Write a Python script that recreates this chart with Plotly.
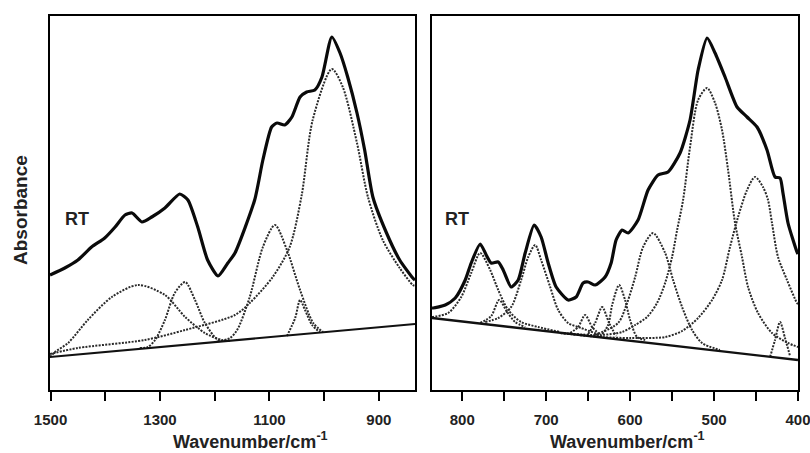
import plotly.graph_objects as go

# ---------------- LEFT PANEL (1500-834 cm-1) ----------------
main_L_x = [1501, 1474, 1450, 1425, 1401, 1382, 1364, 1351, 1333, 1315, 1291, 1264, 1249, 1231, 1213, 1194,
            1176, 1163, 1127, 1112, 1096, 1086, 1072, 1059, 1044, 1032, 1017, 1004, 986, 971, 957, 940, 926,
            911, 886, 862, 838, 834]
main_L_y = [1.15, 1.22, 1.30, 1.43, 1.52, 1.63, 1.75, 1.77, 1.68, 1.73, 1.82, 1.96, 1.90, 1.63, 1.30, 1.14,
            1.27, 1.37, 1.90, 2.30, 2.63, 2.67, 2.65, 2.73, 2.93, 2.98, 3.00, 3.13, 3.53, 3.37, 3.13, 2.77, 2.40,
            1.93, 1.57, 1.30, 1.12, 1.10]
base_L_x = [1501, 834]
base_L_y = [0.33, 0.66]

band_L1_x = [1501, 1492, 1468, 1432, 1388, 1340, 1291, 1254, 1218, 1187, 1172]
band_L1_y = [0.33, 0.38, 0.47, 0.70, 0.93, 1.05, 0.95, 0.73, 0.57, 0.50, 0.49]
band_L2_x = [1337, 1322, 1309, 1291, 1273, 1254, 1236, 1218, 1194, 1176]
band_L2_y = [0.42, 0.43, 0.50, 0.70, 0.97, 1.08, 0.90, 0.67, 0.50, 0.49]
band_L3_x = [1200, 1172, 1159, 1136, 1112, 1090, 1068, 1044, 1020, 1002]
band_L3_y = [0.48, 0.52, 0.60, 0.93, 1.43, 1.65, 1.40, 1.00, 0.67, 0.58]
band_L4_x = [1501, 1450, 1328, 1254, 1163, 1136, 1094, 1063, 1041, 1021, 986, 966, 940, 920, 893, 862, 838, 834]
band_L4_y = [0.36, 0.42, 0.50, 0.60, 0.75, 0.87, 1.13, 1.43, 1.95, 2.70, 3.21, 3.03, 2.47, 1.93, 1.50, 1.22, 1.05, 1.04]
band_L5_x = [1068, 1053, 1044, 1035, 1022, 1008]
band_L5_y = [0.54, 0.72, 0.90, 0.80, 0.65, 0.58]

# ---------------- RIGHT PANEL (836-400 cm-1) ----------------
main_R_x = [836, 834.5, 820.2, 808.3, 796.4, 789.3, 778.6, 771.4, 765.5, 757.1, 751.2, 741.7, 733.3, 725.0,
            714.3, 706.0, 697.6, 688.1, 673.8, 664.3, 656.0, 650.0, 641.7, 629.8, 622.6, 616.7, 609.5, 602.4,
            590.5, 578.6, 566.7, 554.8, 540.5, 528.6, 519.0, 508.3, 498.8, 486.9, 472.6, 460.7, 448.8, 436.9,
            427.4, 421.4, 417.9, 411.9, 401.2, 400]
main_R_y = [0.82, 0.82, 0.85, 0.92, 1.10, 1.27, 1.46, 1.35, 1.27, 1.28, 1.20, 1.03, 1.10, 1.37,
            1.65, 1.53, 1.27, 1.03, 0.90, 0.93, 1.07, 1.08, 1.05, 1.13, 1.27, 1.50, 1.60, 1.57,
            1.70, 2.00, 2.15, 2.18, 2.37, 2.70, 3.20, 3.52, 3.37, 3.13, 2.83, 2.73, 2.63, 2.40,
            2.13, 2.12, 1.97, 1.67, 1.38, 1.36]
base_R_x = [836, 400]
base_R_y = [0.72, 0.30]

band_R1_x = [836, 816.7, 801.2, 789.3, 778.6, 766.7, 757.1, 745.2, 729.8, 709.5, 683.3]
band_R1_y = [0.73, 0.77, 0.93, 1.17, 1.37, 1.20, 1.00, 0.80, 0.68, 0.63, 0.58]
band_R2_x = [778.6, 765.5, 756, 746.4, 737, 725]
band_R2_y = [0.67, 0.74, 0.90, 0.78, 0.68, 0.63]
band_R3_x = [772.6, 757.1, 741.7, 729.8, 721.4, 713.1, 706.0, 695.2, 685.7, 673.8, 658.3, 636]
band_R3_y = [0.68, 0.72, 0.83, 1.10, 1.33, 1.45, 1.30, 1.03, 0.80, 0.67, 0.62, 0.55]
band_R4_x = [671.4, 661.9, 653.6, 645.2, 635.7]
band_R4_y = [0.57, 0.63, 0.75, 0.63, 0.55]
band_R5_x = [650, 641.7, 633.3, 625, 616.7]
band_R5_y = [0.56, 0.67, 0.83, 0.67, 0.54]
band_R6_x = [635.7, 626.2, 621.4, 613.1, 606, 600, 591.7, 582]
band_R6_y = [0.53, 0.65, 0.85, 1.05, 0.90, 0.70, 0.53, 0.50]
band_R7_x = [641.7, 614.3, 603.6, 594, 584.5, 572.6, 558.3, 548.8, 538.1, 526.2, 514.3, 493]
band_R7_y = [0.55, 0.67, 0.87, 1.13, 1.43, 1.57, 1.37, 1.10, 0.83, 0.60, 0.47, 0.40]
band_R8_x = [683.3, 635.7, 609.5, 594, 579.8, 567.9, 558.3, 550, 544, 536.9, 528.6, 519, 508.3, 498.8,
             490.5, 483.3, 475, 466.7, 459.5, 447.6, 431, 412, 400]
band_R8_y = [0.57, 0.55, 0.58, 0.65, 0.73, 0.87, 1.07, 1.33, 1.60, 1.90, 2.43, 2.90, 3.02, 2.87,
             2.60, 2.20, 1.67, 1.33, 1.03, 0.77, 0.57, 0.47, 0.43]
band_R9_x = [683.3, 635.7, 600, 558.3, 538.1, 519, 502.4, 490.5, 481, 471.4, 460.7, 451.2, 441.7, 435.7,
             431, 423.8, 413.1, 401.2, 400]
band_R9_y = [0.57, 0.53, 0.52, 0.53, 0.59, 0.72, 0.90, 1.10, 1.43, 1.73, 2.00, 2.13, 2.03, 1.90,
             1.67, 1.33, 1.10, 0.87, 0.86]
band_R10_x = [433.3, 427.4, 421.4, 415.5, 409.5]
band_R10_y = [0.33, 0.50, 0.68, 0.52, 0.34]

left_major_ticks = [1500, 1300, 1100, 900]
left_minor_ticks = [1400, 1200, 1000]
right_major_ticks = [800, 700, 600, 500, 400]
right_minor_ticks = [750, 650, 550, 450]

x_title = "Wavenumber/cm<sup>-1</sup>"
y_title = "Absorbance"
panel_label = "RT"

DOT = dict(color="#2a2a2a", width=2.0, dash="2px,1.3px", shape="spline", smoothing=0.8)
MAIN = dict(color="#0a0a0a", width=3.2, shape="spline", smoothing=0.6)
BASE = dict(color="#111111", width=2)

fig = go.Figure()

def add(x, y, line, axis):
    xa, ya = ("x", "y") if axis == 1 else ("x2", "y2")
    fig.add_trace(go.Scatter(x=x, y=y, mode="lines", line=line, xaxis=xa, yaxis=ya,
                             showlegend=False, hoverinfo="skip"))

for bx, by in [(band_L1_x, band_L1_y), (band_L2_x, band_L2_y), (band_L3_x, band_L3_y),
               (band_L5_x, band_L5_y), (band_L4_x, band_L4_y)]:
    add(bx, by, DOT, 1)
add(base_L_x, base_L_y, BASE, 1)
add(main_L_x, main_L_y, MAIN, 1)

for bx, by in [(band_R1_x, band_R1_y), (band_R2_x, band_R2_y), (band_R3_x, band_R3_y),
               (band_R4_x, band_R4_y), (band_R5_x, band_R5_y), (band_R6_x, band_R6_y),
               (band_R7_x, band_R7_y), (band_R8_x, band_R8_y), (band_R9_x, band_R9_y),
               (band_R10_x, band_R10_y)]:
    add(bx, by, DOT, 2)
add(base_R_x, base_R_y, dict(color="#111111", width=2.4), 2)
add(main_R_x, main_R_y, MAIN, 2)

FONT = "Liberation Sans, Arial, sans-serif"
tickfont = dict(family=FONT, size=15, color="#222", weight="bold")
axis_common = dict(showline=True, linecolor="black", linewidth=2, mirror=True, ticks="outside",
                   ticklen=9, tickwidth=2, tickcolor="black", showgrid=False, zeroline=False,
                   tickfont=tickfont, ticklabelstandoff=6, automargin=False, tickmode="array",
                   ticklabeloverflow="allow")

W, H = 810, 453
L, R, T, B = 50, 12, 16, 63
PW = W - L - R
PH = H - T - B

def px(xp):
    return (xp - L) / PW

def py(yp):
    return (H - B - yp) / PH

yaxis_common = dict(domain=[0, 1], range=[0, 3.74], showticklabels=False, ticks="", automargin=False,
                    showline=True, linecolor="black", linewidth=2, mirror=True, showgrid=False, zeroline=False)

title_font = dict(family=FONT, size=18, color="#222", weight="bold")

fig.update_layout(
    width=W, height=H,
    margin=dict(l=L, r=R, t=T, b=B, autoexpand=False),
    paper_bgcolor="white", plot_bgcolor="white",
    xaxis=dict(domain=[0, px(415)], range=[1501, 834], tickvals=left_major_ticks,
               minor=dict(tickmode="array", tickvals=left_minor_ticks, ticks="outside", ticklen=9,
                          tickwidth=2, tickcolor="black", showgrid=False),
               anchor="y", **axis_common),
    yaxis=dict(anchor="x", **yaxis_common),
    xaxis2=dict(domain=[px(432), 1], range=[836, 400], tickvals=right_major_ticks,
                minor=dict(tickmode="array", tickvals=right_minor_ticks, ticks="outside", ticklen=9,
                           tickwidth=2, tickcolor="black", showgrid=False),
                anchor="y2", **axis_common),
    yaxis2=dict(anchor="x2", **yaxis_common),
    annotations=[
        dict(text=x_title, x=px(250), y=py(440), xref="paper", yref="paper", showarrow=False,
             xanchor="center", yanchor="middle", font=title_font),
        dict(text=x_title, x=px(627), y=py(440), xref="paper", yref="paper", showarrow=False,
             xanchor="center", yanchor="middle", font=title_font),
        dict(text=y_title, x=px(20), y=py(210), xref="paper", yref="paper", showarrow=False, textangle=-90,
             xanchor="center", yanchor="middle", font=dict(family=FONT, size=19, color="#222", weight="bold")),
        dict(text=panel_label, x=px(77), y=py(219), xref="paper", yref="paper", showarrow=False,
             xanchor="center", yanchor="middle", font=title_font),
        dict(text=panel_label, x=px(457), y=py(219), xref="paper", yref="paper", showarrow=False,
             xanchor="center", yanchor="middle", font=title_font),
    ],
)

fig.write_html("out.html")
